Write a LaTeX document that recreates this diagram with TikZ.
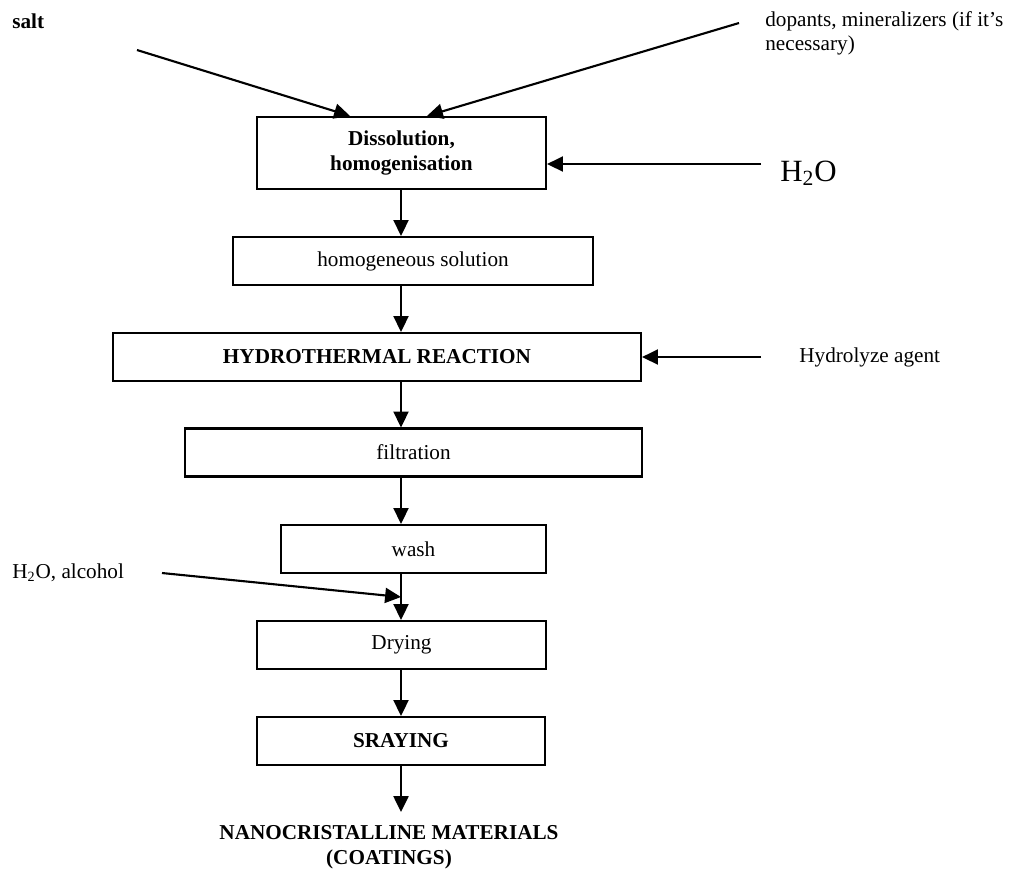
\documentclass[tikz,border=0pt]{standalone}
\usepackage{fontspec}
\setmainfont{Liberation Serif}
\usetikzlibrary{arrows.meta,calc}

\tikzset{
  stage/.style 2 args={draw, line width=1.2pt, inner sep=0pt, align=center,
    minimum width=#1*0.566pt, minimum height=#2*0.566pt},
  strong/.style={font=\fontsize{12}{13.8}\selectfont\bfseries},
  flow/.style={line width=1.2pt, -{Triangle[length=9pt,width=8.5pt]}},
}

\begin{document}
\begin{tikzpicture}[x=0.566pt, y=-0.566pt, every node/.style={font=\fontsize{12}{13.8}\selectfont}]
            \useasboundingbox (0,0) rectangle (1024,870);
            \coordinate (axis) at (401,0);
            \node[stage={289}{72}, strong] (dissol) at (401.5,153) {Dissolution,\\homogenisation};
            \node[stage={360}{48}] (homsol) at (413,261) {homogeneous solution};
            \node[stage={528}{48}, strong] (hydro) at (377,357) {HYDROTHERMAL REACTION};
            \node[stage={457}{48}] (filtr) at (413.5,452.5) {filtration};
            \node[stage={265}{48}] (wash) at (413.5,549) {wash};
            \node[stage={289}{48}] (drying) at (401.5,645) {Drying};
            \node[stage={288}{48}, strong] (spray) at (401,741) {SRAYING};
            \node[strong, font=\fontsize{12}{14.2}\selectfont\bfseries, align=center] (product) at (389,847) {NANOCRISTALLINE MATERIALS\\(COATINGS)};
            \node[strong, anchor=west, inner sep=0pt] (salt) at (12,21) {salt};
            \node[anchor=north west, inner sep=0pt, align=left] (dopants) at (765,11) {dopants, mineralizers (if it’s\\necessary)};
            \node[font=\fontsize{17.5}{20}\selectfont, anchor=base west, inner sep=0pt] (water) at (780,181) {H\textsubscript{2}O};
            \node[anchor=west, inner sep=0pt] (hydag) at (799,357) {Hydrolyze agent};
            \node[anchor=west, inner sep=0pt] (washliq) at (12,573) {H\textsubscript{2}O, alcohol};
            \coordinate (saltin) at (137,50);
            \coordinate (dopin) at (739,23);
            \coordinate (waterin) at (761,164);
            \coordinate (hydin) at (761,357);
            \coordinate (washin) at (162,573);
            \coordinate (outend) at (401,812);
            \draw[flow] (saltin) -- ($(dissol.north)+(-51.5,0)$);
            \draw[flow] (dopin) -- ($(dissol.north)+(25.5,0)$);
            \draw[flow] (waterin) -- (waterin -| dissol.east);
            \draw[flow] (hydin) -- (hydin -| hydro.east);
            \draw[flow] (washin) -- ($(wash.south -| axis)!0.5!(drying.north -| axis)$);
            \foreach \a/\b in {dissol/homsol, homsol/hydro, hydro/filtr, filtr/wash, wash/drying, drying/spray}
                \draw[flow] (\a.south -| axis) -- (\b.north -| axis);
            \draw[flow] (spray.south -| axis) -- (outend);
\end{tikzpicture}
\end{document}
